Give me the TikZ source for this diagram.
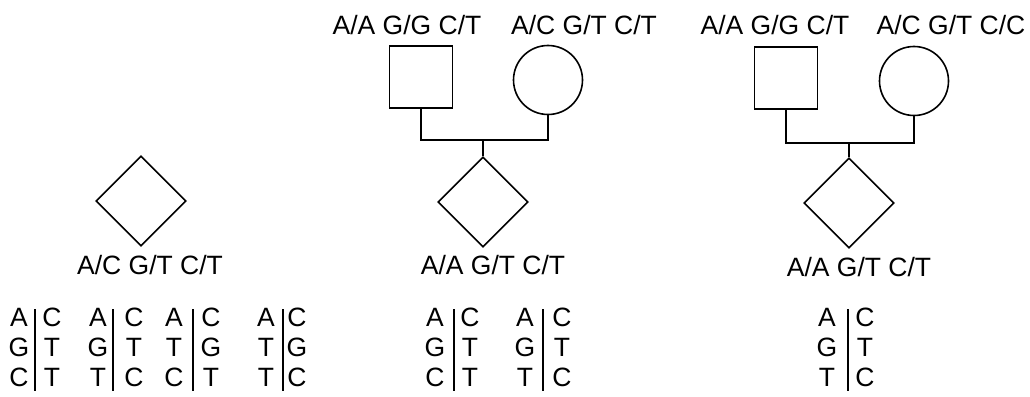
\documentclass[tikz,border=0pt]{standalone}
\usepackage{fontspec}
\setmainfont{Liberation Sans}
\usetikzlibrary{shapes.geometric}
\begin{document}
\begin{tikzpicture}[x=1pt,y=-1pt,
  ln/.style={line width=1.6pt},
  gtxt/.style={inner sep=0pt,font=\fontsize{26.5}{30}\selectfont,text height=19pt,text depth=0pt},
  male/.style={draw,ln,rectangle,minimum width=63pt,minimum height=62pt,inner sep=0pt},
  female/.style={draw,ln,circle,minimum size=69pt,inner sep=0pt},
  child/.style={draw,ln,diamond,aspect=1,minimum size=90pt,inner sep=0pt},
  bar/.style={ln}]
\useasboundingbox (0,0) rectangle (1030,396);
\newcommand\haplotab[6]{%
  % #1 name, #2 left x, #3 bar x, #4 right x, #5 left letters, #6 right letters
  \foreach \l [count=\i] in {#5} {\node[gtxt] (#1L\i) at (#2,{287+30*\i}) {\l};}
  \foreach \r [count=\i] in {#6} {\node[gtxt] (#1R\i) at (#4,{287+30*\i}) {\r};}
  \coordinate (#1t) at (#3,309);
  \coordinate (#1b) at (#3,391);
  \draw[bar] (#1t) -- (#1b);
}
% left single
\node[child] (d1) at (141,201) {};
\node[gtxt] (l1) at (150,265) {A/C G/T C/T};
\haplotab{a}{19}{35}{52}{A,G,C}{C,T,T}
\haplotab{b}{98}{113}{134}{A,G,T}{C,T,C}
\haplotab{c}{174}{193}{211}{A,T,C}{C,G,T}
\haplotab{e}{266}{283}{297}{A,T,T}{C,G,C}
% middle family
\node[gtxt] (mfl) at (407,25) {A/A G/G C/T};
\node[gtxt] (mml) at (584,25) {A/C G/T C/T};
\node[male] (mf) at (421,77) {};
\node[female] (mm) at (548,80) {};
\coordinate (mj) at (483,140);
\node[child] (mc) at (483,202) {};
\node[gtxt] (mcl) at (493,265) {A/A G/T C/T};
\draw[ln] (mf.south) -- (mf.south |- mj) -- (mm.south |- mj) -- (mm.south);
\draw[ln] (mj) -- (mc.north);
\haplotab{f}{435}{454}{470}{A,G,C}{C,T,T}
\haplotab{g}{525}{543}{562}{A,G,T}{C,T,C}
% right family
\node[gtxt] (rfl) at (775,25) {A/A G/G C/T};
\node[gtxt] (rml) at (951,25) {A/C G/T C/C};
\node[male] (rf) at (786,78) {};
\node[female] (rm) at (914,81) {};
\coordinate (rj) at (849,143);
\node[child] (rc) at (849,203) {};
\node[gtxt] (rcl) at (859,267) {A/A G/T C/T};
\draw[ln] (rf.south) -- (rf.south |- rj) -- (rm.south |- rj) -- (rm.south);
\draw[ln] (rj) -- (rc.north);
\haplotab{h}{827}{848}{865}{A,G,T}{C,T,C}
\end{tikzpicture}
\end{document}
